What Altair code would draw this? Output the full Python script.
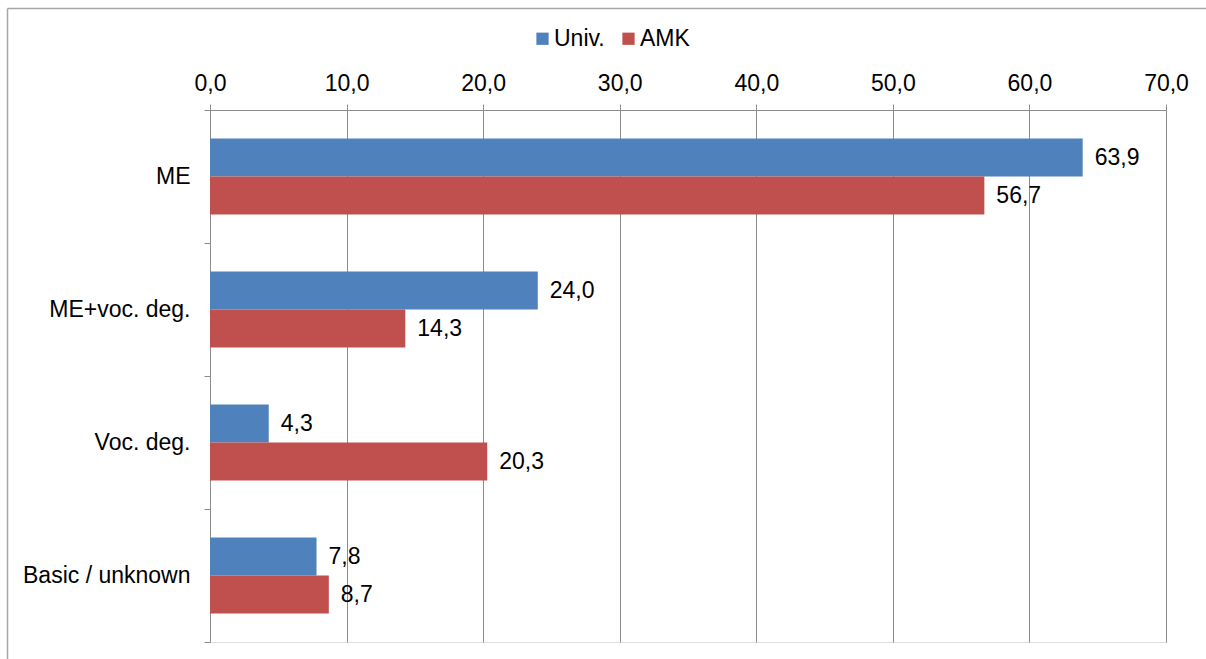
import altair as alt
import pandas as pd

categories = ["ME", "ME+voc. deg.", "Voc. deg.", "Basic / unknown"]
series = ["Univ.", "AMK"]
univ = [63.9, 24.0, 4.3, 7.8]
amk = [56.7, 14.3, 20.3, 8.7]
x_ticks = [0, 10, 20, 30, 40, 50, 60, 70]
colors = ["#4F81BD", "#C0504D"]

rows = []
for c, u, a in zip(categories, univ, amk):
    rows.append({"category": c, "series": "Univ.", "value": u})
    rows.append({"category": c, "series": "AMK", "value": a})
df = pd.DataFrame(rows)

FONT = "Liberation Sans"
GRAY = "#8c8c8c"
FS = 23

base = alt.Chart(df).encode(
    y=alt.Y(
        "category:N",
        sort=categories,
        title=None,
        scale=alt.Scale(paddingInner=0, paddingOuter=0),
        axis=alt.Axis(
            tickBand="extent",
            tickSize=6,
            tickColor=GRAY,
            domainColor=GRAY,
            labelFontSize=FS,
            labelFont=FONT,
            labelColor="#000000",
            labelPadding=14,
            grid=False,
        ),
    ),
    yOffset=alt.YOffset(
        "series:N",
        sort=series,
        scale=alt.Scale(paddingInner=0, paddingOuter=0.75),
    ),
    x=alt.X(
        "value:Q",
        title=None,
        scale=alt.Scale(domain=[0, 70], nice=False),
        axis=alt.Axis(
            orient="top",
            values=x_ticks,
            labelExpr="replace(format(datum.value, '.1f'), '.', ',')",
            labelFlush=False,
            labelOverlap=False,
            tickSize=6,
            tickColor=GRAY,
            domainColor=GRAY,
            gridColor=GRAY,
            labelFontSize=FS,
            labelFont=FONT,
            labelColor="#000000",
            labelPadding=9,
        ),
    ),
)

bars = base.mark_bar().encode(
    color=alt.Color(
        "series:N",
        scale=alt.Scale(domain=series, range=colors),
        legend=alt.Legend(
            title=None,
            orient="none",
            legendX=321,
            legendY=-83,
            direction="horizontal",
            symbolType="square",
            symbolSize=150,
            symbolStrokeWidth=0,
            labelFontSize=FS,
            labelFont=FONT,
            labelColor="#000000",
            labelOffset=0,
            columnPadding=12,
            padding=0,
        ),
    )
)

labels = base.mark_text(
    align="left", baseline="middle", dx=12, fontSize=FS, font=FONT, color="#000000"
).transform_calculate(
    label="replace(format(datum.value, '.1f'), '.', ',')"
).encode(text="label:N")

frame_df = pd.DataFrame({"k": [0]})
frame_left = alt.Chart(frame_df).mark_rule(stroke="#a6a6a6", strokeWidth=1.5).encode(
    x=alt.value(-202.5), y=alt.value(-101.5), y2=alt.value(600),
)
frame_top = alt.Chart(frame_df).mark_rule(stroke="#a6a6a6", strokeWidth=1.5).encode(
    x=alt.value(-202.5), x2=alt.value(1100), y=alt.value(-101.5),
)

chart = alt.layer(frame_left, frame_top, bars, labels).properties(
    width=956,
    height=532,
    autosize=alt.AutoSizeParams(type="none"),
    padding={"left": 210, "top": 110, "right": 40, "bottom": 17},
).configure_view(stroke=None).configure(background="white")

chart.save("out.html", embed_options={"renderer": "svg", "actions": False})
